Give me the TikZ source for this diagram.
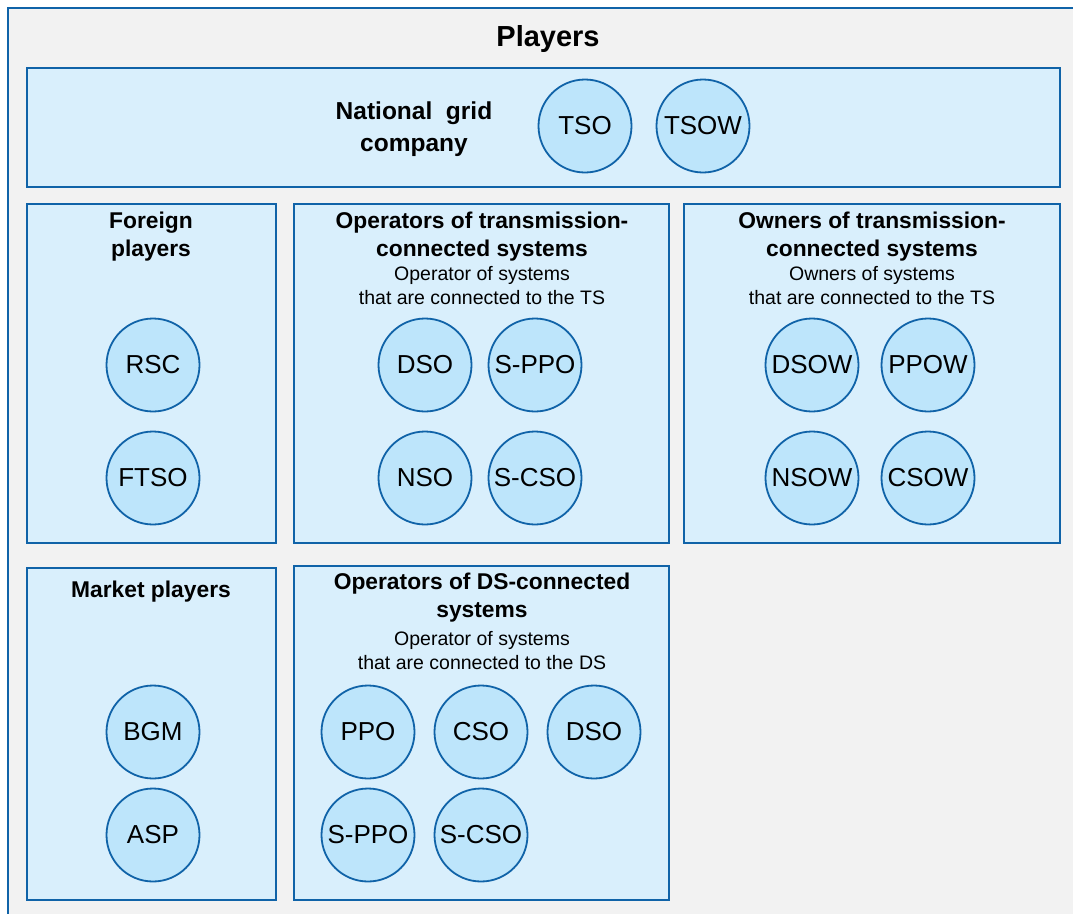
\documentclass[tikz,border=0pt]{standalone}
\usepackage{fontspec}
\setmainfont{Liberation Sans}
\definecolor{frameblue}{HTML}{1063A8}
\definecolor{boxfill}{HTML}{D9EFFC}
\definecolor{discfill}{HTML}{BDE5FB}
\definecolor{outerfill}{HTML}{F2F2F2}
\tikzstyle{player}=[circle, draw=frameblue, line width=1.8pt, fill=discfill, inner sep=0pt, minimum size=93pt, font=\fontsize{26}{30}\selectfont]
\tikzstyle{group}=[draw=frameblue, line width=2pt, fill=boxfill]
\tikzstyle{grouptitle}=[align=center, inner sep=0pt, font=\fontsize{22.8}{28}\selectfont\bfseries]
\tikzstyle{groupnote}=[align=center, inner sep=0pt, font=\fontsize{19.5}{24}\selectfont]
\newcommand{\player}{\node[player]}

\begin{document}
\begin{tikzpicture}[x=1pt,y=-1pt]
            \useasboundingbox (0,0) rectangle (1073,913);
            \draw[draw=frameblue, line width=2.5pt, fill=outerfill] (8,8) rectangle (1090,930);
            \node[font=\fontsize{29}{34}\selectfont\bfseries, inner sep=0pt] (players) at (548,39) {Players};
            % boxes
            \draw[group] (27,68) rectangle (1060,187);
            \draw[group] (27,204) rectangle (276,543);
            \draw[group] (294,204) rectangle (669,543);
            \draw[group] (684,204) rectangle (1060,543);
            \draw[group] (27,568) rectangle (276,900);
            \draw[group] (294,566) rectangle (669,900);
            % titles
            \node[grouptitle, font=\fontsize{24.5}{32}\selectfont\bfseries] (grid) at (414,129) {National\ \ grid\\company};
            \node[grouptitle] (foreign) at (151,237) {Foreign\\players};
            \node[grouptitle] (optsTS) at (482,237) {Operators of transmission-\\connected systems};
            \node[groupnote] (optsTSnote) at (482,286) {Operator of systems\\that are connected to the TS};
            \node[grouptitle] (ownTS) at (872,237) {Owners of transmission-\\connected systems};
            \node[groupnote] (ownTSnote) at (872,286) {Owners of systems\\that are connected to the TS};
            \node[grouptitle] (market) at (151,592) {Market players};
            \node[grouptitle] (optsDS) at (482,598) {Operators of DS-connected\\systems};
            \node[groupnote] (optsDSnote) at (482,651) {Operator of systems\\that are connected to the DS};
            % players
            \player (tso) at (585,126){TSO};
            \player (tsow) at (703,126){TSOW};
            \player (rsc) at (153,365){RSC};
            \player (ftso) at (153,478){FTSO};
            \player (dso) at (425,365){DSO};
            \player (sppo) at (535,365){S-PPO};
            \player (nso) at (425,478){NSO};
            \player (scso) at (535,478){S-CSO};
            \player (dsow) at (812,365){DSOW};
            \player (ppow) at (928,365){PPOW};
            \player (nsow) at (812,478){NSOW};
            \player (csow) at (928,478){CSOW};
            \player (bgm) at (153,732){BGM};
            \player (asp) at (153,835){ASP};
            \player (ppo) at (368,732){PPO};
            \player (cso) at (481,732){CSO};
            \player (dsods) at (594,732){DSO};
            \player (sppods) at (368,835){S-PPO};
            \player (scsods) at (481,835){S-CSO};
        \end{tikzpicture}
\end{document}
